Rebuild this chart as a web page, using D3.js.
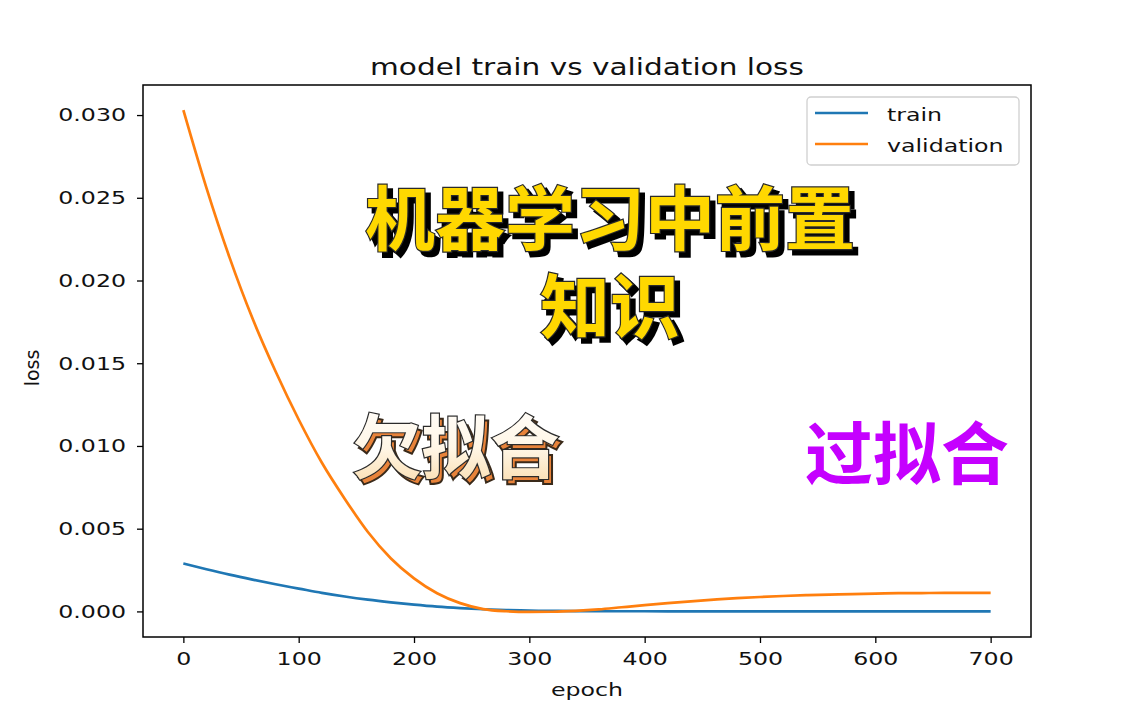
<!DOCTYPE html>
<html><head><meta charset="utf-8">
<script src="https://cdn.jsdelivr.net/npm/d3@7"></script>
<style>body{margin:0;background:#fff;} svg{display:block}</style>
</head><body><svg id="c" width="1146" height="717"></svg>
<script>
const epochs = [0,20,40,60,80,100,120,140,160,180,200,220,240,260,280,300,320,340,360,380,400,420,440,460,480,500,520,540,560,580,600,620,640,660,680,700];
const trainLoss = [0.00290,0.00255,0.00222,0.00192,0.00164,0.00138,0.00112,0.00090,0.00071,0.00055,0.00041,0.00029,0.00020,0.00013,0.00008,0.00005,0.00003,0.00002,0.00001,0.00001,0.00001,0.000005,0.000005,0.000005,0.000005,0.000005,0.000005,0.000005,0.000005,0.000005,0.000005,0.000005,0.000005,0.000005,0.000005,0.000005];
const valLoss = [0.0303,0.0256,0.0214,0.0177,0.0145,0.0116,0.0090,0.0068,0.0048,0.0032,0.0020,0.0011,0.0005,0.00014,0.00001,-0.00003,-0.00002,0.00003,0.00012,0.00025,0.00038,0.0005,0.00061,0.00071,0.0008,0.00087,0.00093,0.00098,0.00102,0.00105,0.00108,0.0011,0.00111,0.00112,0.00112,0.00112];
const xTicks = [0,100,200,300,400,500,600,700];
const yTicks = [0,0.005,0.010,0.015,0.020,0.025,0.030];
const seriesNames = ["train","validation"];
const seriesColors = ["#1f77b4","#ff7f0e"];
const titleText = "model train vs validation loss";
const xLabel = "epoch";
const yLabel = "loss";
const overlayMain = ["机器学习中前置","知识"];
const overlayUnder = "欠拟合";
const overlayOver = "过拟合";

const SX = 1.28; // horizontal stretch of latin text
const FONT = "'DejaVu Sans', sans-serif";
const CJK = "'Noto Sans CJK SC', sans-serif";
const svg = d3.select("#c");
const m = {left:143, top:85, right:115, bottom:80};
const W = 1146, H = 717;
const pw = W - m.left - m.right, ph = H - m.top - m.bottom;

const xmin = d3.min(epochs), xmax = d3.max(epochs);
const allY = trainLoss.concat(valLoss);
const ymin = d3.min(allY), ymax = d3.max(allY);
const xp = (xmax-xmin)*0.05, yp = (ymax-ymin)*0.05;
const x = d3.scaleLinear().domain([xmin-xp, xmax+xp]).range([m.left, m.left+pw]);
const y = d3.scaleLinear().domain([ymin-yp, ymax+yp]).range([m.top+ph, m.top]);

const defs = svg.append("defs");
defs.append("clipPath").attr("id","clip").append("rect")
  .attr("x",m.left).attr("y",m.top).attr("width",pw).attr("height",ph);
const g = defs.append("linearGradient").attr("id","cream").attr("x1",0).attr("y1",0).attr("x2",0).attr("y2",1);
g.append("stop").attr("offset","0%").attr("stop-color","#ffffff");
g.append("stop").attr("offset","55%").attr("stop-color","#fff6e6");
g.append("stop").attr("offset","100%").attr("stop-color","#f9d9a6");

// lines
const line = (arr) => d3.line().x((d,i)=>x(epochs[i])).y(d=>y(d)).curve(d3.curveMonotoneX)(arr);
const lg = svg.append("g").attr("clip-path","url(#clip)");
[trainLoss, valLoss].forEach((arr,k)=>{
  lg.append("path").attr("d", line(arr)).attr("fill","none")
    .attr("stroke", seriesColors[k]).attr("stroke-width",2.7).attr("stroke-linejoin","round");
});

// axes
const xa = svg.append("g").attr("transform",`translate(0,${m.top+ph})`)
  .call(d3.axisBottom(x).tickValues(xTicks).tickFormat(d3.format("d")).tickSize(6).tickPadding(9).tickSizeOuter(0));
const ya = svg.append("g").attr("transform",`translate(${m.left},0)`)
  .call(d3.axisLeft(y).tickValues(yTicks).tickFormat(d3.format(".3f")).tickSize(6).tickPadding(10).tickSizeOuter(0));
[xa,ya].forEach(a=>{
  a.select(".domain").remove();
  a.selectAll("line").attr("stroke","#000").attr("stroke-width",1.3);
  a.selectAll("text").attr("font-family",FONT).attr("font-size",18.5).attr("fill","#111");
});
xa.selectAll("text").attr("transform",`scale(${SX},1)`)
  .attr("x", function(){ return 0; });
xa.selectAll(".tick").each(function(){
  // keep label centred on its tick when scaled
  d3.select(this).select("text").attr("transform",`scale(${SX},1)`);
});
ya.selectAll("text").attr("x", -17/SX).attr("transform",`scale(${SX},1)`);

// frame
svg.append("rect").attr("x",m.left).attr("y",m.top).attr("width",pw).attr("height",ph)
  .attr("fill","none").attr("stroke","#000").attr("stroke-width",1.5);

// title and labels
function stext(sel, txt, px, py, size, anchor){
  return sel.append("text").text(txt)
    .attr("transform",`translate(${px},${py}) scale(${SX},1)`)
    .attr("font-family",FONT).attr("font-size",size).attr("fill","#111")
    .attr("text-anchor",anchor||"middle");
}
stext(svg, titleText, m.left+pw/2, 75, 23.1, "middle");
stext(svg, xLabel, m.left+pw/2, 696, 18.5, "middle");
svg.append("text").text(yLabel)
  .attr("transform",`translate(39,368) rotate(-90)`)
  .attr("font-family",FONT).attr("font-size",19).attr("fill","#111").attr("text-anchor","middle");

// legend
const leg = svg.append("g");
leg.append("rect").attr("x",807).attr("y",97).attr("width",212).attr("height",68)
  .attr("rx",4).attr("fill","rgba(255,255,255,0.8)").attr("stroke","#d0d0d0").attr("stroke-width",1.3);
seriesNames.forEach((n,i)=>{
  const yy = 113 + i*31;
  leg.append("line").attr("x1",815).attr("x2",868).attr("y1",yy).attr("y2",yy)
    .attr("stroke",seriesColors[i]).attr("stroke-width",2.7);
  stext(leg, n, 887, yy+8, 18.5, "start");
});

// overlays
function cjk(sel, txt, cx, cy, size){
  return sel.append("text").text(txt).attr("x",cx).attr("y",cy)
    .attr("font-family",CJK).attr("font-weight",700).attr("font-size",size)
    .attr("text-anchor","middle").attr("dominant-baseline","central");
}
const ov = svg.append("g");
overlayMain.forEach((t,i)=>{
  const cy = 214 + i*88, cx = 610;
  cjk(ov, t, cx+5, cy+5, 70).attr("fill","#000").attr("stroke","#000").attr("stroke-width",3);
  cjk(ov, t, cx, cy, 70).attr("fill","#ffd800").attr("stroke","#2a2a2a").attr("stroke-width",2.4)
    .attr("paint-order","stroke");
});
cjk(ov, overlayUnder, 460, 448, 69).attr("fill","#e8833a").attr("stroke","#3a2a1a").attr("stroke-width",2);
cjk(ov, overlayUnder, 456, 443, 69).attr("fill","url(#cream)").attr("stroke","#2b2b2b").attr("stroke-width",2.4)
  .attr("paint-order","stroke");
cjk(ov, overlayOver, 907, 449, 68).attr("fill","#c500ff");
</script></body></html>
